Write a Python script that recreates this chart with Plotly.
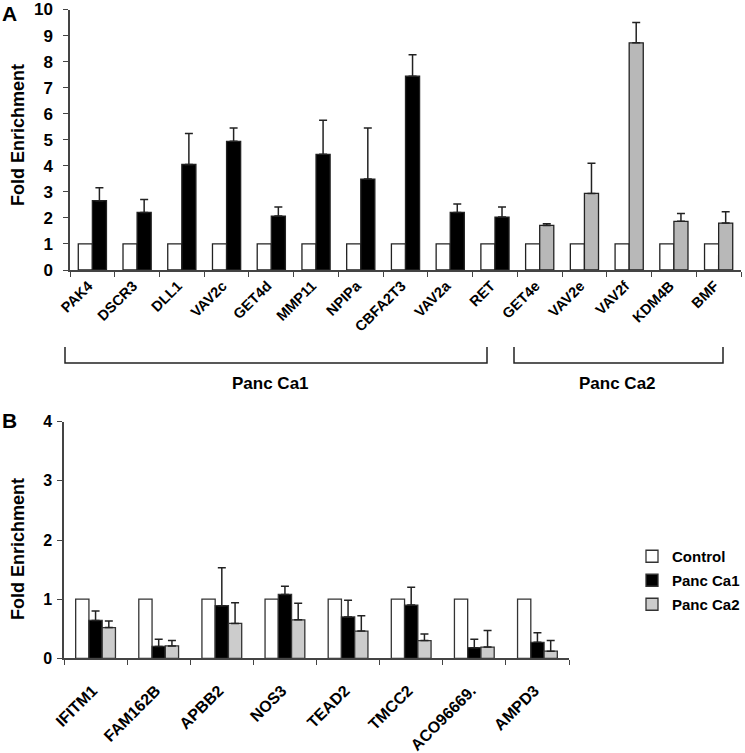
import plotly.graph_objects as go

# ---------------- data ----------------
top_genes = ["PAK4", "DSCR3", "DLL1", "VAV2c", "GET4d", "MMP11", "NPIPa",
             "CBFA2T3", "VAV2a", "RET", "GET4e", "VAV2e", "VAV2f", "KDM4B", "BMF"]
top_control = [1] * 15
ca1_genes = top_genes[:10]
ca1_top = [2.66, 2.21, 4.05, 4.94, 2.07, 4.44, 3.49, 7.44, 2.21, 2.03]
ca1_top_err = [0.50, 0.50, 1.19, 0.51, 0.35, 1.31, 1.96, 0.82, 0.32, 0.39]
ca2_genes = top_genes[10:]
ca2_top = [1.71, 2.94, 8.72, 1.87, 1.80]
ca2_top_err = [0.07, 1.16, 0.78, 0.30, 0.44]

bot_genes = ["IFITM1", "FAM162B", "APBB2", "NOS3", "TEAD2", "TMCC2", "ACO96669.", "AMPD3"]
bot_control = [1] * 8
bot_ca1 = [0.64, 0.20, 0.89, 1.08, 0.70, 0.90, 0.18, 0.27]
bot_ca1_err = [0.16, 0.12, 0.64, 0.14, 0.28, 0.30, 0.14, 0.16]
bot_ca2 = [0.52, 0.21, 0.59, 0.65, 0.46, 0.30, 0.19, 0.12]
bot_ca2_err = [0.11, 0.09, 0.35, 0.28, 0.26, 0.11, 0.28, 0.18]

W, H = 745, 753
FONT = "Liberation Sans, Arial, sans-serif"
EDGE = "#222222"


def px(x):
    return x / W


def py(y):
    return 1 - y / H


def err(vals):
    return dict(type="data", symmetric=False, array=vals, arrayminus=[0] * len(vals),
                color=EDGE, thickness=1.5, width=4)


fig = go.Figure()

# top panel
fig.add_bar(x=top_genes, y=top_control, name="Control", offsetgroup="c",
            marker=dict(color="white", line=dict(color=EDGE, width=1.3)),
            xaxis="x", yaxis="y", showlegend=False)
fig.add_bar(x=ca1_genes, y=ca1_top, name="Panc Ca1", offsetgroup="t",
            marker=dict(color="black", line=dict(color=EDGE, width=1.3)),
            error_y=err(ca1_top_err), xaxis="x", yaxis="y", showlegend=False)
fig.add_bar(x=ca2_genes, y=ca2_top, name="Panc Ca2", offsetgroup="t",
            marker=dict(color="#b8b8b8", line=dict(color=EDGE, width=1.3)),
            error_y=err(ca2_top_err), xaxis="x", yaxis="y", showlegend=False)

# bottom panel
fig.add_bar(x=bot_genes, y=bot_control, name="Control", legendgroup="g1",
            marker=dict(color="white", line=dict(color="#333333", width=1.3)),
            xaxis="x2", yaxis="y2")
fig.add_bar(x=bot_genes, y=bot_ca1, name="Panc Ca1", legendgroup="g2",
            marker=dict(color="black", line=dict(color="#333333", width=1.3)),
            error_y=err(bot_ca1_err), xaxis="x2", yaxis="y2")
fig.add_bar(x=bot_genes, y=bot_ca2, name="Panc Ca2", legendgroup="g3",
            marker=dict(color="#cccccc", line=dict(color="#333333", width=1.3)),
            error_y=err(bot_ca2_err), xaxis="x2", yaxis="y2")

axis_common = dict(showline=True, linecolor="#444444", linewidth=1.5, ticks="outside",
                   tickcolor="#444444", ticklen=5, tickwidth=1.3, showgrid=False,
                   zeroline=False, automargin=False)

fig.update_layout(
    width=W, height=H,
    margin=dict(l=0, r=0, t=0, b=0),
    paper_bgcolor="white", plot_bgcolor="white",
    barmode="group", bargap=0.37, bargroupgap=0,
    font=dict(family=FONT, color="black"),
    xaxis=dict(domain=[px(70), px(741)], anchor="y", tickson="boundaries",
               tickangle=-45, tickfont=dict(size=14.5, family=FONT, weight="bold"),
               ticklabelshift=-4, **axis_common),
    yaxis=dict(domain=[py(270), py(9.5)], anchor="x", range=[0, 10], dtick=1,
               tickfont=dict(size=17, family=FONT, weight="bold"),
               ticklabelstandoff=7, **axis_common),
    xaxis2=dict(domain=[px(64), px(569)], anchor="y2", tickson="boundaries",
                tickangle=-45, tickfont=dict(size=16, family=FONT, weight="bold"),
                ticklabelstandoff=15, ticklabelshift=-3, **axis_common),
    yaxis2=dict(domain=[py(658.3), py(421.7)], anchor="x2", range=[0, 4], dtick=1,
                tickfont=dict(size=16, family=FONT, weight="bold"),
                ticklabelstandoff=2, **axis_common),
    legend=dict(x=px(632), y=py(540), xanchor="left", yanchor="top",
                font=dict(size=15, family=FONT, weight="bold"), tracegroupgap=1.5,
                bgcolor="rgba(0,0,0,0)"),
)

# brackets grouping the cell lines
bracket = dict(type="path", xref="paper", yref="paper",
               line=dict(color="#222222", width=1.5))
for x0, x1 in [(65, 487), (514, 723)]:
    fig.add_shape(path=f"M {px(x0)} {py(347)} L {px(x0)} {py(363)} L {px(x1)} {py(363)} L {px(x1)} {py(347)}",
                  **bracket)

ann = dict(xref="paper", yref="paper", showarrow=False, xanchor="center", yanchor="middle",
           font=dict(family=FONT, weight="bold"))
fig.add_annotation(x=px(270), y=py(383), text="Panc Ca1", font_size=17, **ann)
fig.add_annotation(x=px(617), y=py(383), text="Panc Ca2", font_size=17, **ann)
fig.add_annotation(x=px(9), y=py(14), text="A", font_size=21, **ann)
fig.add_annotation(x=px(9), y=py(421), text="B", font_size=21, **ann)
fig.add_annotation(x=px(18), y=py(135), text="Fold Enrichment", textangle=-90, font_size=18, **ann)
fig.add_annotation(x=px(18), y=py(549), text="Fold Enrichment", textangle=-90, font_size=18, **ann)

# remove the browser's default page margin so the figure sits at the window origin
fig.write_html("out.html", config={"displayModeBar": False},
               post_script="document.body.style.margin='0';")
